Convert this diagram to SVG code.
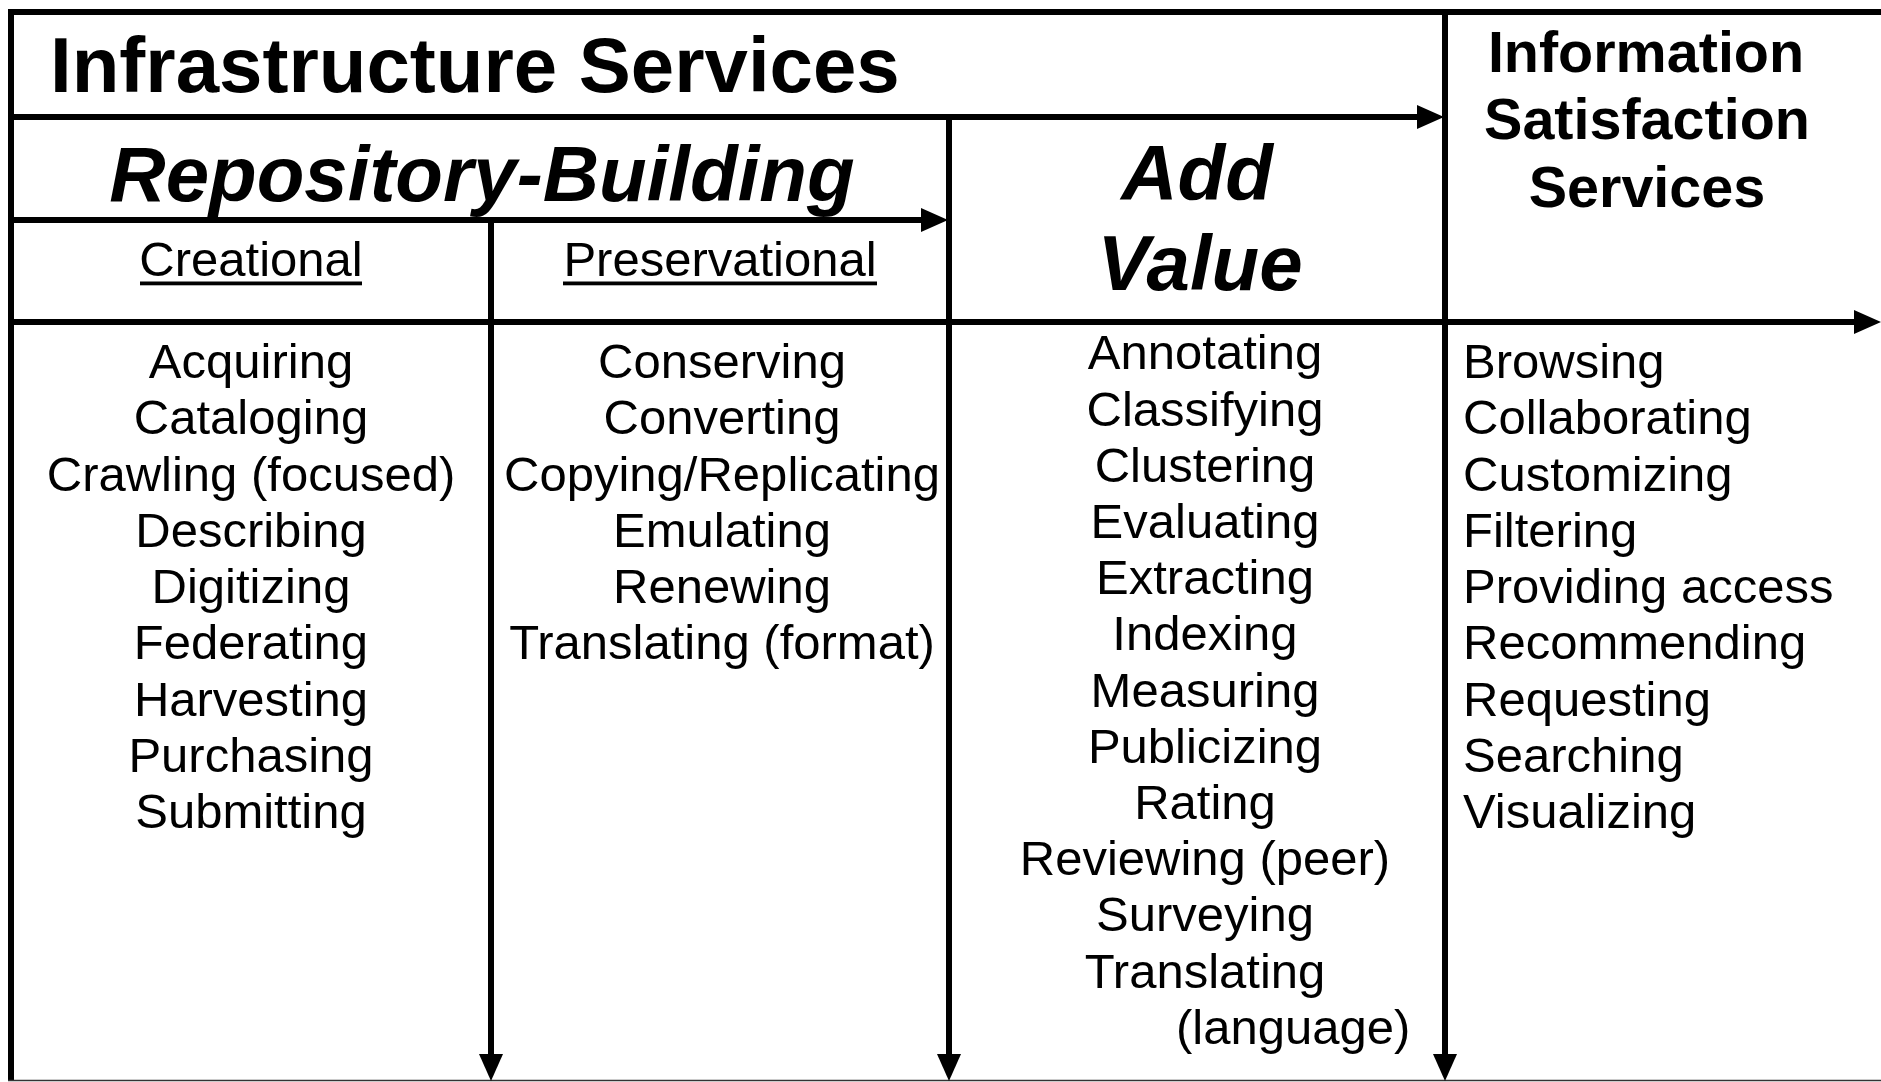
<svg xmlns="http://www.w3.org/2000/svg" width="1881" height="1082" viewBox="0 0 1881 1082">
<style>
.t{font-family:"Liberation Sans",Arial,Helvetica,sans-serif;fill:#000}
.b{font-size:49px}
.c{text-anchor:middle}
.h1{font-size:78px;font-weight:bold}
.bi{font-size:78px;font-weight:bold;font-style:italic}
.h2{font-size:57.5px;font-weight:bold}
.ln{stroke:#000;stroke-width:6;fill:none}
</style>
<defs>
<marker id="ah" markerUnits="userSpaceOnUse" markerWidth="27" markerHeight="24" refX="17" refY="12" orient="auto">
<path d="M0,0 L27,12 L0,24 z" fill="#000"/>
</marker>
</defs>
<rect width="1881" height="1082" fill="#fff"/>
<g id="frame">
<line class="ln" x1="8" y1="12" x2="1881" y2="12"/>
<line class="ln" x1="11" y1="9" x2="11" y2="1081"/>
<line x1="8" y1="1080.5" x2="1881" y2="1080.5" stroke="#333" stroke-width="1.5"/>
</g>
<g id="connectors">
<line class="ln" x1="11" y1="117" x2="1434" y2="117" marker-end="url(#ah)"/>
<line class="ln" x1="11" y1="220" x2="938" y2="220" marker-end="url(#ah)"/>
<line class="ln" x1="11" y1="322" x2="1871" y2="322" marker-end="url(#ah)"/>
<line class="ln" x1="1445" y1="9" x2="1445" y2="1071" marker-end="url(#ah)"/>
<line class="ln" x1="949" y1="117" x2="949" y2="1071" marker-end="url(#ah)"/>
<line class="ln" x1="491" y1="220" x2="491" y2="1071" marker-end="url(#ah)"/>
</g>
<g id="infrastructure-services">
<text class="t h1" x="50" y="92">Infrastructure Services</text>
</g>
<g id="repository-building">
<text class="t bi c" x="482" y="201">Repository-Building</text>
</g>
<g id="creational">
<text class="t b c" x="251" y="276">Creational</text>
<rect x="140" y="281.5" width="222" height="3.8" fill="#000"/>
</g>
<g id="preservational">
<text class="t b c" x="720" y="276">Preservational</text>
<rect x="563" y="281.5" width="314" height="3.8" fill="#000"/>
</g>
<g id="add-value">
<text class="t bi c" x="1197" y="200">Add</text>
<text class="t bi c" x="1200" y="290">Value</text>
</g>
<g id="information-satisfaction-services">
<text class="t h2 c" x="1646" y="72">Information</text>
<text class="t h2 c" x="1647" y="139">Satisfaction</text>
<text class="t h2 c" x="1647" y="207">Services</text>
</g>
<g id="creational-list">
<text class="t b c" x="251" y="378">Acquiring</text>
<text class="t b c" x="251" y="434.25">Cataloging</text>
<text class="t b c" x="251" y="490.5">Crawling (focused)</text>
<text class="t b c" x="251" y="546.75">Describing</text>
<text class="t b c" x="251" y="603">Digitizing</text>
<text class="t b c" x="251" y="659.25">Federating</text>
<text class="t b c" x="251" y="715.5">Harvesting</text>
<text class="t b c" x="251" y="771.75">Purchasing</text>
<text class="t b c" x="251" y="828">Submitting</text>
</g>
<g id="preservational-list">
<text class="t b c" x="722" y="378">Conserving</text>
<text class="t b c" x="722" y="434.25">Converting</text>
<text class="t b c" x="722" y="490.5">Copying/Replicating</text>
<text class="t b c" x="722" y="546.75">Emulating</text>
<text class="t b c" x="722" y="603">Renewing</text>
<text class="t b c" x="722" y="659.25">Translating (format)</text>
</g>
<g id="add-value-list">
<text class="t b c" x="1205" y="369.3">Annotating</text>
<text class="t b c" x="1205" y="425.5">Classifying</text>
<text class="t b c" x="1205" y="481.7">Clustering</text>
<text class="t b c" x="1205" y="537.9">Evaluating</text>
<text class="t b c" x="1205" y="594.1">Extracting</text>
<text class="t b c" x="1205" y="650.3">Indexing</text>
<text class="t b c" x="1205" y="706.5">Measuring</text>
<text class="t b c" x="1205" y="762.7">Publicizing</text>
<text class="t b c" x="1205" y="818.9">Rating</text>
<text class="t b c" x="1205" y="875.1">Reviewing (peer)</text>
<text class="t b c" x="1205" y="931.3">Surveying</text>
<text class="t b c" x="1205" y="987.5">Translating</text>
<text class="t b" x="1176" y="1043.7">(language)</text>
</g>
<g id="information-satisfaction-list">
<text class="t b" x="1463" y="378">Browsing</text>
<text class="t b" x="1463" y="434.25">Collaborating</text>
<text class="t b" x="1463" y="490.5">Customizing</text>
<text class="t b" x="1463" y="546.75">Filtering</text>
<text class="t b" x="1463" y="603">Providing access</text>
<text class="t b" x="1463" y="659.25">Recommending</text>
<text class="t b" x="1463" y="715.5">Requesting</text>
<text class="t b" x="1463" y="771.75">Searching</text>
<text class="t b" x="1463" y="828">Visualizing</text>
</g>
</svg>
